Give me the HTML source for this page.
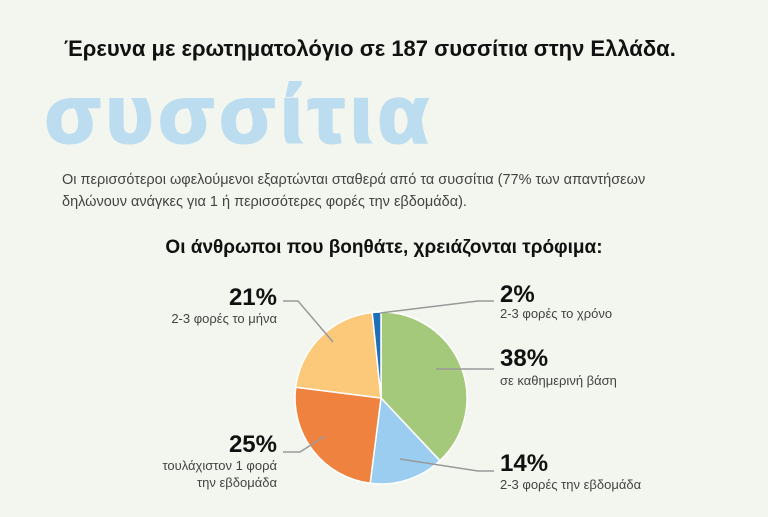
<!DOCTYPE html>
<html><head><meta charset="utf-8"><style>
body{margin:0;width:768px;height:517px;background:#f2f6ee;font-family:"Liberation Sans","DejaVu Sans",sans-serif;position:relative;overflow:hidden}
.a{position:absolute;white-space:nowrap}
.t{left:64px;top:36px;font-size:22px;font-weight:bold;color:#111}
.big{left:45px;top:75px;font-family:"Liberation Sans",sans-serif;font-weight:bold;font-size:81px;line-height:80px;color:#bcdcf0;letter-spacing:5.5px;-webkit-text-stroke:3px #bcdcf0}
.p{left:62px;top:169px;font-size:14.5px;color:#444;line-height:22px}
.h{left:0;width:768px;text-align:center;top:237px;font-size:19px;font-weight:bold;color:#111}
.n{font-size:24px;font-weight:bold;color:#111}
.s{font-size:13px;color:#444;line-height:17px}
</style></head><body>
<div class="a t">Έρευνα με ερωτηματολόγιο σε 187 συσσίτια στην Ελλάδα.</div>
<div class="a big">συσσίτια</div>
<div class="a p">Οι περισσότεροι ωφελούμενοι εξαρτώνται σταθερά από τα συσσίτια (77% των απαντήσεων<br>δηλώνουν ανάγκες για 1 ή περισσότερες φορές την εβδομάδα).</div>
<div class="a h">Οι άνθρωποι που βοηθάτε, χρειάζονται τρόφιμα:</div>
<svg class="a" style="left:0;top:0" width="768" height="517">
<g stroke="#fff" stroke-width="1.5">
<path d="M381,398 L381,312 A86,86 0 0 1 439.9,460.7Z" fill="#a4c97a"/>
<path d="M381,398 L439.9,460.7 A86,86 0 0 1 370.2,483.3Z" fill="#9bcdf0"/>
<path d="M381,398 L370.2,483.3 A86,86 0 0 1 295.7,387.2Z" fill="#ef823e"/>
<path d="M381,398 L295.7,387.2 A86,86 0 0 1 372.2,312.5Z" fill="#fbc979"/>
<path d="M381,398 L372.2,312.5 A86,86 0 0 1 381,312Z" fill="#1f6fb8"/>
</g>
<g stroke="#999" stroke-width="1.5" fill="none">
<path d="M380,313 L478,301 L494,301"/>
<path d="M436,369 L494,369"/>
<path d="M400,459 L478,471 L494,471"/>
<path d="M325,436 L300,452 L283,452"/>
<path d="M333,342 L298,301 L283,301"/>
</g>
</svg>
<div class="a n" style="right:491px;top:284px">21%</div>
<div class="a s" style="right:491px;top:310px">2-3 φορές το μήνα</div>
<div class="a n" style="right:491px;top:431px">25%</div>
<div class="a s" style="right:491px;top:457px;text-align:right">τουλάχιστον 1 φορά<br>την εβδομάδα</div>
<div class="a n" style="left:500px;top:281px">2%</div>
<div class="a s" style="left:500px;top:305px">2-3 φορές το χρόνο</div>
<div class="a n" style="left:500px;top:345px">38%</div>
<div class="a s" style="left:500px;top:372px">σε καθημερινή βάση</div>
<div class="a n" style="left:500px;top:450px">14%</div>
<div class="a s" style="left:500px;top:476px">2-3 φορές την εβδομάδα</div>
</body></html>
